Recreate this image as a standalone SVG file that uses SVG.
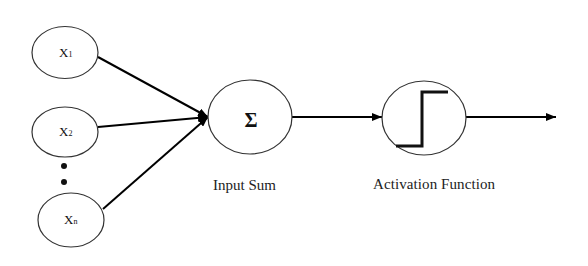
<svg xmlns="http://www.w3.org/2000/svg" width="588" height="266" viewBox="0 0 588 266">
<defs>
<marker id="ah" viewBox="0 0 10 8" refX="10" refY="4" markerWidth="10" markerHeight="8" markerUnits="userSpaceOnUse" orient="auto">
<path d="M0,0 L10,4 L0,8 Z" fill="#000"/>
</marker>
</defs>
<style>
.node{fill:#fff;stroke:#333;stroke-width:1.2}
.edge{stroke:#000;stroke-width:2;fill:none;marker-end:url(#ah)}
.lbl{font-family:"Liberation Serif","Times New Roman",serif;fill:#111}
.cap{font-family:"Liberation Serif","Times New Roman",serif;font-size:15px;fill:#222}
</style>
<rect width="588" height="266" fill="#fff"/>
<g id="connectors">
<line class="edge" x1="98" y1="57" x2="208" y2="117"/>
<line class="edge" x1="98" y1="127" x2="208" y2="117"/>
<line class="edge" x1="103" y1="209" x2="208" y2="117"/>
<line class="edge" x1="292" y1="117" x2="382" y2="117"/>
<line class="edge" x1="466" y1="117" x2="556" y2="117"/>
</g>
<g id="x1">
<ellipse class="node" cx="65" cy="52.5" rx="33" ry="26"/>
<text class="lbl" x="59" y="57" font-size="13">X<tspan font-size="8">1</tspan></text>
</g>
<g id="x2">
<ellipse class="node" cx="65" cy="132" rx="33" ry="25"/>
<text class="lbl" x="59" y="136" font-size="13">X<tspan font-size="8">2</tspan></text>
</g>
<g id="dots">
<circle cx="64" cy="166" r="3" fill="#111"/>
<circle cx="64" cy="182" r="3" fill="#111"/>
</g>
<g id="xn">
<ellipse class="node" cx="71" cy="220" rx="33" ry="27"/>
<text class="lbl" x="64" y="224" font-size="13">X<tspan font-size="8">n</tspan></text>
</g>
<g id="sum">
<ellipse class="node" cx="250" cy="117" rx="42" ry="37"/>
<text class="lbl" x="251" y="127" font-size="20" font-weight="bold" text-anchor="middle">Σ</text>
<text class="cap" x="213" y="190" textLength="63">Input Sum</text>
</g>
<g id="activation">
<ellipse class="node" cx="424" cy="118" rx="42" ry="37"/>
<polyline points="396,146 422,146 422,92 448,92" fill="none" stroke="#111" stroke-width="3"/>
<text class="cap" x="373" y="189" textLength="122">Activation Function</text>
</g>
</svg>
